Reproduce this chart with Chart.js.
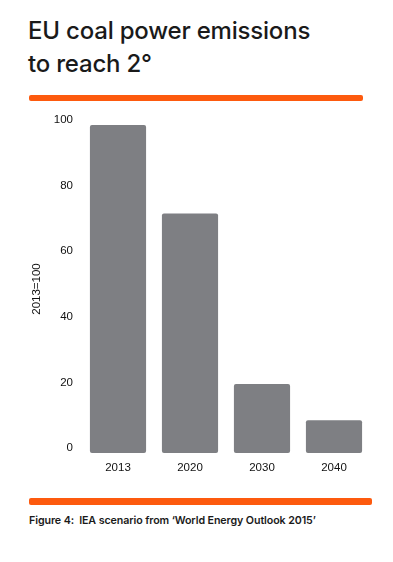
<!DOCTYPE html>
<html>
<head>
<meta charset="utf-8">
<script src="https://cdn.jsdelivr.net/npm/chart.js@4"></script>
<style>
  html, body { margin: 0; padding: 0; background: #ffffff; }
  body { width: 393px; height: 562px; position: relative; overflow: hidden; font-family: Inter, "Noto Sans", sans-serif; }
  #title { position: absolute; left: 28px; top: 14px; font-size: 24px; line-height: 33px; color: #1a1a1a; letter-spacing: -0.2px; font-weight: 500; }
  .rule { position: absolute; background: #fd5a0e; border-radius: 2px; }
  #rule1 { left: 29px; top: 95px; width: 334px; height: 6px; }
  #rule2 { left: 29px; top: 498px; width: 343px; height: 7px; }
  #caption { position: absolute; left: 29px; top: 514px; font-size: 10.7px; font-weight: 600; color: #1a1a1a; letter-spacing: -0.1px; white-space: nowrap; }
  #wrap { position: absolute; left: 0; top: 105px; width: 393px; height: 380px; }
</style>
</head>
<body>
<div id="title">EU coal power emissions<br>to reach 2°</div>
<div class="rule" id="rule1"></div>
<div id="wrap"><canvas id="c"></canvas></div>
<div class="rule" id="rule2"></div>
<div id="caption">Figure 4:&nbsp; IEA scenario from ‘World Energy Outlook 2015’</div>
<script>
const categories = ["2013", "2020", "2030", "2040"];
const values = [100, 73, 21, 10];
const yTicks = [0, 20, 40, 60, 80, 100];
const yTitle = "2013=100";

const tickFont = { family: "'Liberation Sans', Arial, sans-serif", size: 11.5 };

new Chart(document.getElementById("c"), {
  type: "bar",
  data: {
    labels: categories,
    datasets: [{
      data: values,
      backgroundColor: "#7e7f83",
      borderRadius: 2,
      borderSkipped: false,
      barPercentage: 0.78,
      categoryPercentage: 1.0
    }]
  },
  options: {
    responsive: true,
    maintainAspectRatio: false,
    animation: false,
    layout: { padding: { top: 20, right: 23, left: 0, bottom: 0 } },
    plugins: { legend: { display: false }, tooltip: { enabled: false } },
    scales: {
      x: {
        grid: { display: false, drawTicks: false },
        border: { display: false },
        ticks: { color: "#111111", font: tickFont, padding: 8, maxRotation: 0 },
        afterFit: (s) => { s.height = 32; }
      },
      y: {
        min: 0, max: 100,
        afterBuildTicks: (s) => { s.ticks = yTicks.map(v => ({ value: v })); },
        grid: { display: false, drawTicks: false },
        border: { display: false },
        ticks: { color: "#111111", font: tickFont, padding: 9, labelOffset: -5 },
        title: { display: true, text: yTitle, color: "#111111", font: tickFont, padding: { top: 30, bottom: 0 } },
        afterFit: (s) => { s.width = 82; }
      }
    }
  }
});
</script>
</body>
</html>
